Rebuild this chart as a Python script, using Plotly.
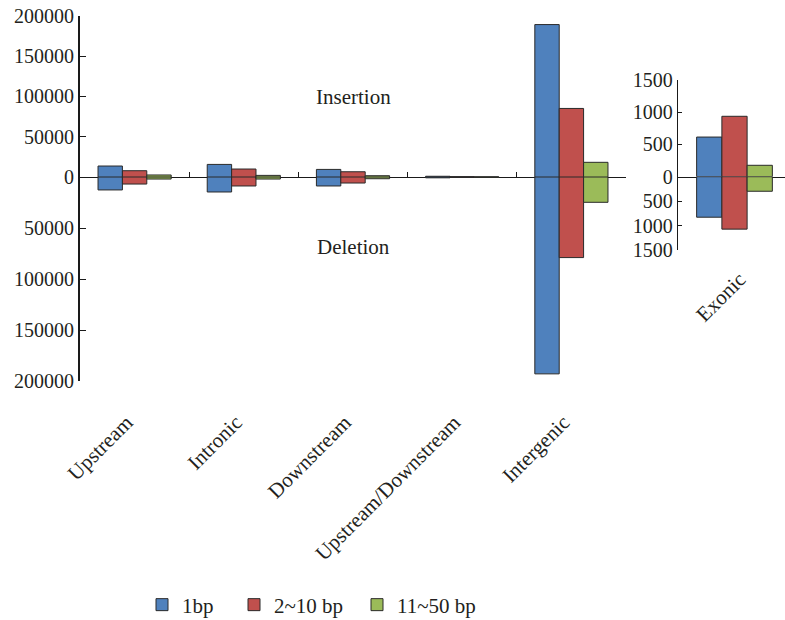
import plotly.graph_objects as go

categories = ["Upstream", "Intronic", "Downstream", "Upstream/Downstream", "Intergenic"]
exonic_cat = ["Exonic"]
series = ["1bp", "2~10 bp", "11~50 bp"]
colors = ["#4F81BD", "#C0504D", "#9BBB59"]

# insertion / deletion counts (main panel)
ins_1bp = [13600, 15600, 9400, 900, 189000]
ins_2_10 = [7800, 9900, 6500, 500, 85000]
ins_11_50 = [2500, 2000, 1600, 300, 18200]
del_1bp = [12700, 14700, 8800, 800, 193000]
del_2_10 = [6900, 8800, 5900, 400, 79000]
del_11_50 = [2000, 2000, 1700, 300, 24800]

# exonic panel
ex_ins = [615, 937, 177]
ex_del = [829, 1073, 298]

main_ticks = [0, 50000, 100000, 150000, 200000]
inset_ticks = [0, 500, 1000, 1500]

W, H = 785, 620
FONT = "Liberation Serif"
TXT = "#231f20"

def py(px):
    return 1 - px / H

def pxx(px):
    return px / W

fig = go.Figure()
ins = [ins_1bp, ins_2_10, ins_11_50]
dels = [del_1bp, del_2_10, del_11_50]
legend_ids = ["legend", "legend2", "legend3"]
line = dict(color="#2a2a2a", width=1)
for i, name in enumerate(series):
    fig.add_trace(go.Bar(x=categories, y=ins[i], name=name, marker=dict(color=colors[i], line=line),
                         xaxis="x", yaxis="y", legendgroup=name, showlegend=True,
                         legend=legend_ids[i]))
    fig.add_trace(go.Bar(x=categories, y=dels[i], name=name, marker=dict(color=colors[i], line=line),
                         xaxis="x3", yaxis="y2", legendgroup=name, showlegend=False))
    fig.add_trace(go.Bar(x=exonic_cat, y=[ex_ins[i]], name=name, marker=dict(color=colors[i], line=line),
                         xaxis="x2", yaxis="y3", legendgroup=name, showlegend=False))
    fig.add_trace(go.Bar(x=exonic_cat, y=[ex_del[i]], name=name, marker=dict(color=colors[i], line=line),
                         xaxis="x4", yaxis="y4", legendgroup=name, showlegend=False))

zero_px = 177
tickfont = dict(family=FONT, size=20, color=TXT)
catfont = dict(family=FONT, size=21, color=TXT)
main_x_dom = [pxx(80), pxx(626)]
inset_x_dom = [pxx(678), 1.0]
inset_range = [-0.5, 0.447]

def leg(xpx):
    return dict(orientation="h", x=pxx(xpx), y=py(605), xanchor="left", yanchor="middle",
                font=dict(family=FONT, size=21, color=TXT), itemwidth=30,
                bgcolor="rgba(0,0,0,0)")

fig.update_layout(
    width=W, height=H,
    margin=dict(l=0, r=0, t=0, b=0, autoexpand=False),
    paper_bgcolor="white", plot_bgcolor="rgba(0,0,0,0)",
    barmode="group", bargap=0.33, bargroupgap=0,
    font=dict(family=FONT, color=TXT),
    showlegend=True,
    legend=leg(142), legend2=leg(234), legend3=leg(357),
    xaxis=dict(domain=main_x_dom, anchor="y", showline=True, linecolor="#1a1a1a", linewidth=1.3,
               ticks="inside", ticklen=5, tickcolor="#1a1a1a", tickson="boundaries",
               showticklabels=False, showgrid=False, zeroline=False, automargin=False,
               categoryorder="array", categoryarray=categories, range=[-0.5, 4.5]),
    xaxis3=dict(domain=main_x_dom, anchor="y2", matches="x", showline=False, ticks="",
                showticklabels=True, tickangle=-45, tickfont=catfont, ticklabelstandoff=24,
                ticklabelshift=-8,
                showgrid=False, zeroline=False, automargin=False),
    xaxis2=dict(domain=inset_x_dom, anchor="y3", showline=True, linecolor="#1a1a1a", linewidth=1.3,
                ticks="", showticklabels=False, showgrid=False, zeroline=False, range=inset_range,
                automargin=False),
    xaxis4=dict(domain=inset_x_dom, anchor="y4", matches="x2", showline=False, ticks="",
                showticklabels=True, tickangle=-45, tickfont=catfont, ticklabelstandoff=12,
                ticklabelshift=5,
                showgrid=False, zeroline=False, automargin=False),
    yaxis=dict(domain=[py(zero_px), py(15.7)], anchor="x", range=[0, 200000],
               tickvals=main_ticks, ticktext=[str(v) for v in main_ticks],
               showline=True, linecolor="#1a1a1a", linewidth=2, ticks="inside", ticklen=6,
               tickcolor="#1a1a1a", tickfont=tickfont, showgrid=False, zeroline=False, automargin=False),
    yaxis2=dict(domain=[py(381), py(zero_px)], anchor="x3", range=[200000, 0],
                tickvals=main_ticks[1:], ticktext=[str(v) for v in main_ticks[1:]],
                showline=True, linecolor="#1a1a1a", linewidth=2, ticks="inside", ticklen=6,
                tickcolor="#1a1a1a", tickfont=tickfont, showgrid=False, zeroline=False, automargin=False),
    yaxis3=dict(domain=[py(176.7), py(80)], anchor="x2", range=[0, 1500],
                tickvals=inset_ticks, ticktext=[str(v) for v in inset_ticks],
                showline=True, linecolor="#1a1a1a", linewidth=1.3, ticks="inside", ticklen=4,
                tickcolor="#1a1a1a", tickfont=tickfont, showgrid=False, zeroline=False, automargin=False),
    yaxis4=dict(domain=[py(250), py(176.7)], anchor="x4", range=[1500, 0],
                tickvals=inset_ticks[1:], ticktext=[str(v) for v in inset_ticks[1:]],
                showline=True, linecolor="#1a1a1a", linewidth=1.3, ticks="inside", ticklen=4,
                tickcolor="#1a1a1a", tickfont=tickfont, showgrid=False, zeroline=False, automargin=False),
    annotations=[
        dict(text="Insertion", x=pxx(353), y=py(83), xref="paper", yref="paper",
             showarrow=False, font=dict(family=FONT, size=21, color=TXT)),
        dict(text="Deletion", x=pxx(353), y=py(247), xref="paper", yref="paper",
             showarrow=False, font=dict(family=FONT, size=21, color=TXT)),
    ],
)

fig.write_html("out.html", config={"displayModeBar": False},
               post_script="document.body.style.margin='0';")
